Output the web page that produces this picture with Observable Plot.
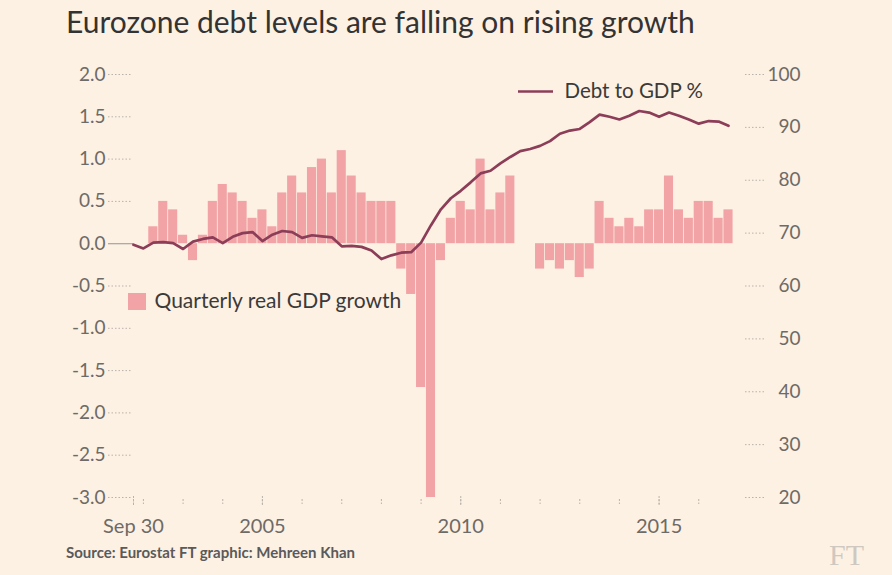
<!DOCTYPE html>
<html>
<head>
<meta charset="utf-8">
<script src="https://cdn.jsdelivr.net/npm/d3@7"></script>
<script src="https://cdn.jsdelivr.net/npm/@observablehq/plot@0.6"></script>
<style>
  html, body { margin: 0; padding: 0; background: #fdf1e4; }
  body { width: 892px; height: 575px; position: relative; overflow: hidden; font-family: Lato, "Open Sans", sans-serif; }
  #title { position: absolute; left: 66px; top: 3px; font-size: 30px; color: #333; white-space: nowrap; }
  #chart { position: absolute; left: 0; top: 50px; }
  #source { position: absolute; left: 66px; top: 543px; font-size: 15px; color: #5a5a5a; font-weight: 700; white-space: nowrap; }
  #logo { position: absolute; left: 829px; top: 538px; font-family: "Liberation Serif", "DejaVu Serif", serif; font-size: 30px; color: #cfc8c0; }
</style>
</head>
<body>
<div id="title">Eurozone debt levels are falling on rising growth</div>
<div id="chart"></div>
<div id="source">Source: Eurostat FT graphic: Mehreen Khan</div>
<div id="logo">FT</div>
<script>
// ---- data ----
// Quarterly real GDP growth (%), quarters from 2002 Q1 to 2016 Q3
const gdpFirstQuarter = 2002.25; // quarter-end of 2002 Q1
const gdpGrowth = [
  0.2, 0.5, 0.4, 0.1,
  -0.2, 0.1, 0.5, 0.7,
  0.6, 0.5, 0.3, 0.4,
  0.2, 0.6, 0.8, 0.6,
  0.9, 1.0, 0.6, 1.1,
  0.8, 0.6, 0.5, 0.5,
  0.5, -0.3, -0.6, -1.7,
  -3.0, -0.2, 0.3, 0.5,
  0.4, 1.0, 0.4, 0.6,
  0.8, 0.0, 0.0, -0.3,
  -0.2, -0.3, -0.2, -0.4,
  -0.3, 0.5, 0.3, 0.2,
  0.3, 0.2, 0.4, 0.4,
  0.8, 0.4, 0.3, 0.5,
  0.5, 0.3, 0.4
];
// Debt to GDP (%), quarters from 2001 Q3 (Sep 30) to 2016 Q3
const debtFirstQuarter = 2001.75;
const debtToGdp = [
  67.8, 67.1, 68.2, 68.3,
  68.1, 67.0, 68.4, 68.9,
  69.2, 68.1, 69.3, 70.0,
  70.2, 68.5, 69.7, 70.4,
  70.2, 69.1, 69.6, 69.4,
  69.2, 67.5, 67.6, 67.4,
  66.7, 65.1, 65.8, 66.3,
  66.4, 68.2, 71.5, 74.5,
  76.6, 78.0, 79.6, 81.3,
  81.8, 83.2, 84.4, 85.5,
  85.9, 86.5, 87.4, 88.8,
  89.4, 89.7, 91.0, 92.4,
  92.0, 91.5, 92.2, 93.1,
  92.8, 92.0, 92.8, 92.2,
  91.5, 90.7, 91.2, 91.1,
  90.3
];
const leftTicks = [2.0, 1.5, 1.0, 0.5, 0.0, -0.5, -1.0, -1.5, -2.0, -2.5, -3.0];
const rightTicks = [100, 90, 80, 70, 60, 50, 40, 30, 20];
const xMinorTicks = [2001.75, 2002, 2003, 2004, 2005, 2006, 2007, 2008, 2009, 2010, 2011, 2012, 2013, 2014, 2015, 2016];
const xLabels = [
  {t: 2001.75, label: "Sep 30"},
  {t: 2005, label: "2005"},
  {t: 2010, label: "2010"},
  {t: 2015, label: "2015"}
];
const legendDebt = "Debt to GDP %";
const legendGdp = "Quarterly real GDP growth";

// ---- layout helpers ----
const W = 892, H = 490;
const X0 = 133, X1 = 728;            // pixel range of 2001.75 .. 2016.75
const Y0 = 447, Y1 = 24;             // pixel range of -3 .. 2
const pxPerYear = (X1 - X0) / 15;
const pxPerUnit = (Y0 - Y1) / 5;
const xAt = px => 2001.75 + (px - X0) / pxPerYear;
const yAt = py => 2 - (py - Y1) / pxPerUnit;
const rightToLeft = v => -3 + (v - 20) / 16;   // 100 -> 2, 20 -> -3

const gdp = gdpGrowth.map((v, i) => ({t: gdpFirstQuarter + 0.25 * i, v}));
const debt = debtToGdp.map((v, i) => ({t: debtFirstQuarter + 0.25 * i, v}));

const fmt = d3.format(".1f");
const tickColor = "#6e6a66";
const barColor = "#f2a3a6";
const lineColor = "#8c3d58";
const font = "Lato, 'Open Sans', sans-serif";

const chart = Plot.plot({
  width: W,
  height: H,
  style: {background: "transparent", fontFamily: font, overflow: "visible"},
  x: {type: "linear", domain: [2001.75, 2016.75], range: [X0, X1], axis: null},
  y: {type: "linear", domain: [-3, 2], range: [Y0, Y1], axis: null},
  marks: [
    // left axis dotted ticks
    Plot.ruleY(leftTicks.filter(d => d !== 0), {x1: xAt(108), x2: xAt(131), stroke: "#b9b2aa", strokeWidth: 1, strokeDasharray: "1.5,2"}),
    Plot.ruleY([0], {x1: xAt(108), x2: xAt(133), stroke: "#a8a29c", strokeWidth: 1.2}),
    Plot.text(leftTicks, {x: xAt(105), y: d => d, text: d => fmt(d).replace("\u2212", "-"), textAnchor: "end", fontSize: 19, fill: tickColor}),
    // right axis dotted ticks and labels
    Plot.ruleY(rightTicks, {y: rightToLeft, x1: xAt(745), x2: xAt(766), stroke: "#b9b2aa", strokeWidth: 1, strokeDasharray: "1.5,2"}),
    Plot.text(rightTicks, {x: xAt(800), y: rightToLeft, text: d => String(d), textAnchor: "end", fontSize: 19, fill: tickColor}),
    // bars
    Plot.rect(gdp, {x1: d => d.t - 0.125, x2: d => d.t + 0.125, y1: d => 0, y2: d => d.v, fill: barColor, insetLeft: 0.4, insetRight: 0.4}),
    // debt line
    Plot.line(debt, {x: "t", y: d => rightToLeft(d.v), stroke: lineColor, strokeWidth: 2.7, curve: "linear"}),
    // x ticks
    Plot.ruleX(xMinorTicks, {x: d => d, y1: yAt(Y0 + 2), y2: yAt(Y0 + 7), stroke: "#b9b2aa", strokeWidth: 1, strokeDasharray: "2,1.5"}),
    Plot.ruleX(xLabels, {x: "t", y1: yAt(Y0 - 1), y2: yAt(Y0 + 9), stroke: "#b9b2aa", strokeWidth: 1, strokeDasharray: "2,1.5"}),
    Plot.text(xLabels, {x: "t", y: yAt(Y0 + 29), text: "label", fontSize: 20, fill: tickColor}),
    // legends
    Plot.ruleY([yAt(41)], {x1: xAt(518), x2: xAt(553), stroke: lineColor, strokeWidth: 2.7}),
    Plot.text([legendDebt], {x: xAt(564), y: yAt(41), text: d => d, textAnchor: "start", fontSize: 20.5, fill: "#3a3a3a"}),
    Plot.rect([legendGdp], {x1: xAt(128), x2: xAt(146), y1: yAt(243), y2: yAt(260), fill: barColor}),
    Plot.text([legendGdp], {x: xAt(154), y: yAt(251), text: d => d, textAnchor: "start", fontSize: 21, fill: "#3a3a3a"})
  ]
});
document.getElementById("chart").appendChild(chart);
</script>
</body>
</html>
